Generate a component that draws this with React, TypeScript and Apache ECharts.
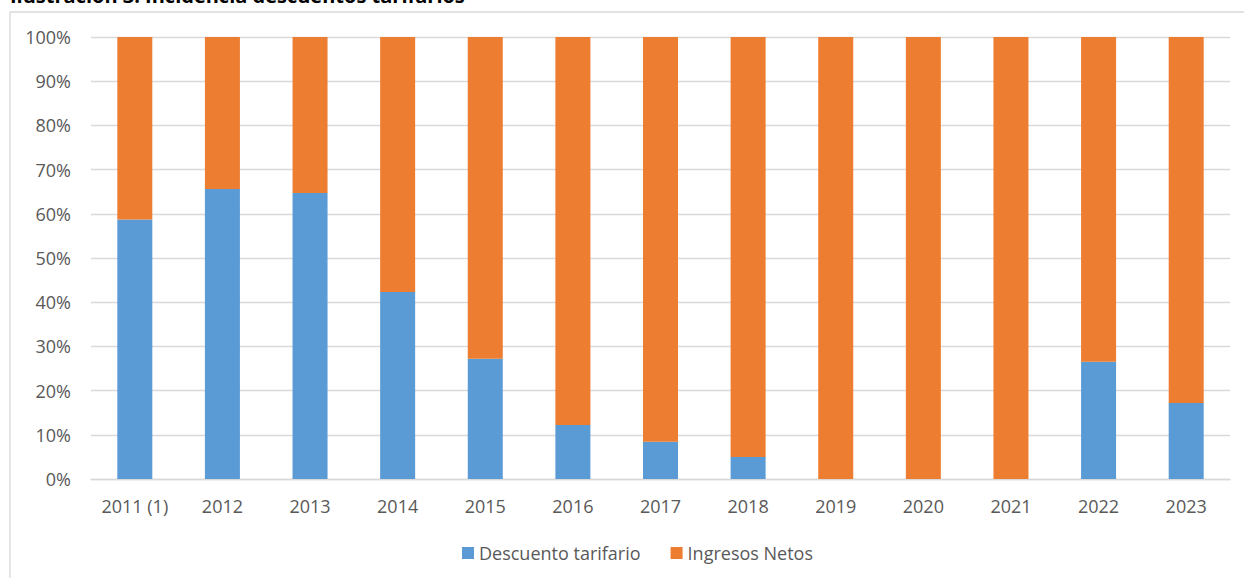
import React, { useEffect, useRef } from "react";
import * as echarts from "echarts";

const categories = ["2011 (1)", "2012", "2013", "2014", "2015", "2016", "2017", "2018", "2019", "2020", "2021", "2022", "2023"];
const descuentoTarifario = [58.7, 65.6, 64.7, 42.3, 27.2, 12.2, 8.4, 5.0, 0, 0, 0, 26.5, 17.2];
const ingresosNetos = [41.3, 34.4, 35.3, 57.7, 72.8, 87.8, 91.6, 95.0, 100, 100, 100, 73.5, 82.8];
const titleText = "Ilustración 3. Incidencia descuentos tarifarios";

export default function App() {
  const ref = useRef<HTMLDivElement>(null);
  useEffect(() => {
    document.body.style.margin = "0";
    const chart = echarts.init(ref.current!, undefined, { renderer: "svg" });
    const font = "'Open Sans', sans-serif";
    chart.setOption({
      animation: false,
      backgroundColor: "#ffffff",
      textStyle: { fontFamily: font },
      graphic: [
        {
          type: "rect",
          shape: { x: 10, y: 12, width: 1250, height: 580 },
          style: { fill: "none", stroke: "#d9d9d9", lineWidth: 1.3 },
          silent: true,
        },
        {
          type: "text",
          x: 10,
          y: 5,
          style: {
            text: titleText,
            fontFamily: font,
            fontWeight: "bold",
            fontSize: 20,
            fill: "#000000",
            verticalAlign: "bottom",
          },
        },
      ],
      grid: { left: 91, right: 14, top: 37, bottom: 99, containLabel: false },
      legend: {
        left: 457,
        top: 539,
        itemWidth: 12,
        itemHeight: 12,
        itemGap: 30,
        icon: "rect",
        textStyle: { color: "#595959", fontSize: 18, fontFamily: font },
        data: ["Descuento tarifario", "Ingresos Netos"],
      },
      xAxis: {
        type: "category",
        data: categories,
        axisLine: { lineStyle: { color: "#d9d9d9", width: 1.3 } },
        axisTick: { show: false },
        axisLabel: { color: "#595959", fontSize: 18, margin: 18, fontFamily: font },
      },
      yAxis: {
        type: "value",
        min: 0,
        max: 100,
        interval: 10,
        axisLine: { show: false },
        axisTick: { show: false },
        splitLine: { lineStyle: { color: "#d9d9d9", width: 1.3 } },
        axisLabel: { color: "#595959", fontSize: 18, margin: 20, formatter: "{value}%", fontFamily: font },
      },
      series: [
        {
          name: "Descuento tarifario",
          type: "bar",
          stack: "total",
          barWidth: 35,
          data: descuentoTarifario,
          itemStyle: { color: "#5B9BD5" },
        },
        {
          name: "Ingresos Netos",
          type: "bar",
          stack: "total",
          barWidth: 35,
          data: ingresosNetos,
          itemStyle: { color: "#ED7D31" },
        },
      ],
    });
    return () => chart.dispose();
  }, []);
  return <div ref={ref} style={{ width: 1244, height: 578 }} />;
}
